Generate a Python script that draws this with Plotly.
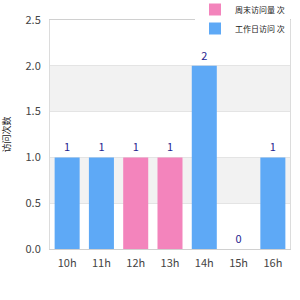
import plotly.graph_objects as go

categories = ["10h", "11h", "12h", "13h", "14h", "15h", "16h"]
series_pink_name = "周末访问量 次"
series_blue_name = "工作日访问 次"
pink_values = [None, None, 1, 1, None, None, None]
blue_values = [1, 1, None, None, 2, 0, 1]
y_title = "访问次数"
y_ticks = [0.0, 0.5, 1.0, 1.5, 2.0, 2.5]

BLUE = "#5ea9f6"
PINK = "#f384bc"
LABEL = "#1f2590"

def labels(vals):
    return ["" if v is None else str(v) for v in vals]

fig = go.Figure()
fig.add_trace(go.Bar(
    x=categories, y=pink_values, name=series_pink_name,
    marker=dict(color=PINK, line=dict(width=0)),
    text=labels(pink_values), textposition="outside",
    textfont=dict(color=LABEL, size=11), cliponaxis=False,
))
fig.add_trace(go.Bar(
    x=categories, y=blue_values, name=series_blue_name,
    marker=dict(color=BLUE, line=dict(width=0)),
    text=labels(blue_values), textposition="outside",
    textfont=dict(color=LABEL, size=11), cliponaxis=False,
))

shapes = []
for i in range(1, len(y_ticks) - 1, 2):
    shapes.append(dict(type="rect", xref="paper", x0=0, x1=1, yref="y",
                       y0=y_ticks[i], y1=y_ticks[i + 1],
                       fillcolor="#f2f2f2", line=dict(width=0), layer="below"))

fig.update_layout(
    width=300, height=300,
    margin=dict(l=50, r=10, t=20, b=51, autoexpand=False),
    paper_bgcolor="white", plot_bgcolor="white",
    barmode="overlay", bargap=0.27,
    font=dict(family="Noto Sans CJK SC, DejaVu Sans, sans-serif", size=11, color="#444"),
    showlegend=True,
    legend=dict(x=1.0, y=1.0 + 25 / 229, xanchor="right", yanchor="top",
                bgcolor="white", font=dict(size=8, color="#222"), itemwidth=30,
                tracegroupgap=0, traceorder="normal"),
    shapes=shapes,
)
fig.update_yaxes(range=[0, 2.5], tickvals=y_ticks, tickformat=".1f",
                 showgrid=True, gridcolor="#e4e4e4", zeroline=False,
                 showline=True, mirror=True, linecolor="#dcdcdc",
                 ticks="", ticklabelstandoff=6,
                 title=dict(text=y_title, font=dict(size=9, color="#222"), standoff=16))
fig.update_xaxes(showgrid=False, showline=True, mirror=True, linecolor="#d0d0d0",
                 ticks="", ticklabelstandoff=4, tickangle=0,
                 tickfont=dict(size=11, color="#444"))

fig.write_html("out.html")
